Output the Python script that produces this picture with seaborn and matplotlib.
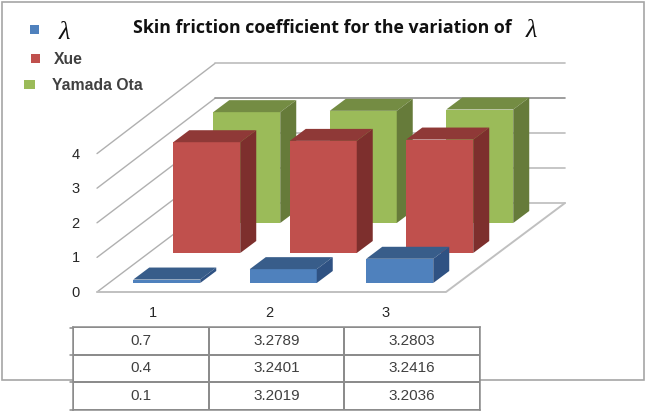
import matplotlib
matplotlib.use("Agg")
import matplotlib.pyplot as plt
from matplotlib.colors import ListedColormap
from matplotlib.patches import Polygon, Rectangle
import numpy as np
import seaborn as sns

# Data
categories = [1, 2, 3]
lambda_values = [0.1, 0.4, 0.7]
xue_values = [3.2019, 3.2401, 3.2789]
yamada_values = [3.2036, 3.2416, 3.2803]
value_ticks = [0, 1, 2, 3, 4]
series_names = ["λ", "Xue", "Yamada Ota"]
title_text = "Skin friction coefficient for the variation of"

W, H = 645, 412
CAT_W = 116.5
UNIT = 34.6
DEPTH = (16, 12)

sns.set_theme(style="white")
plt.rcParams["font.family"] = ["Liberation Sans", "DejaVu Sans"]

fig = plt.figure(figsize=(W / 100, H / 100), dpi=100, facecolor="white")

# pixel canvas for frame, walls and legend
canvas = fig.add_axes([0, 0, 1, 1], zorder=0)
canvas.set_xlim(0, W)
canvas.set_ylim(H, 0)
canvas.axis("off")
canvas.add_patch(Rectangle((2, 2), 642, 378, fill=False, ec="#a6a6a6", lw=1.2))

# floor and gridlines
for k in value_ticks:
    back_y = 203 - k * 34.9
    canvas.plot([97, 215], [292 - k * UNIT, back_y], color="#b0b0b0", lw=1.0, zorder=1)
    canvas.plot([215, 565], [back_y, back_y], color="#8c8c8c" if k == 3 else "#bcbcbc", lw=1.2, zorder=1)
canvas.plot([97, 446, 565], [292, 292, 203], color="#c0c0c0", lw=1.4, zorder=1)


def front_axes(left, base):
    return fig.add_axes([left / W, (H - base) / H, 3 * CAT_W / W, 4 * UNIT / H])


# value and category labels sit on the front plane
front = front_axes(97, 291.5)
front.set_zorder(1)
front.patch.set_alpha(0)
front.set_xlim(-0.48, 2.52)
front.set_ylim(0, 4)
front.set_xticks(range(3), categories)
front.set_yticks(value_ticks)
front.tick_params(length=0, labelsize=10.5, labelcolor="#262626")
front.tick_params(axis="x", pad=10.5)
front.tick_params(axis="y", pad=12.5)
sns.despine(ax=front, left=True, bottom=True)


def draw_series(values, left, base, front_col, top_col, side_col, z):
    ax = front_axes(left, base)
    ax.set_zorder(z)
    sns.barplot(x=categories, y=values, ax=ax, color=front_col, saturation=1, width=0.575, edgecolor="none")
    ax.set_xlim(-0.5, 2.5)
    ax.set_ylim(0, 4)
    ax.axis("off")
    dx, dy = DEPTH[0] / CAT_W, DEPTH[1] / UNIT
    for p in list(ax.patches):
        x, w, h = p.get_x(), p.get_width(), p.get_height()
        ax.add_patch(Polygon([(x, h), (x + w, h), (x + w + dx, h + dy), (x + dx, h + dy)],
                             fc=top_col, ec="none", clip_on=False))
        ax.add_patch(Polygon([(x + w, 0), (x + w + dx, dy), (x + w + dx, h + dy), (x + w, h)],
                             fc=side_col, ec="none", clip_on=False))


draw_series(yamada_values, 188.5, 223, "#9BBB59", "#748C43", "#667B3A", 2)
draw_series(xue_values, 148.5, 253, "#C0504D", "#8F3937", "#7D2F2D", 3)
draw_series(lambda_values, 108.5, 283, "#4F81BD", "#385D8A", "#2F5283", 4)

# table under the plot
table_rows = np.array([[lambda_values[i], xue_values[i], yamada_values[i]] for i in (2, 1, 0)])
table_labels = np.array([[str(lambda_values[i]), f"{xue_values[i]:.4f}", f"{yamada_values[i]:.4f}"] for i in (2, 1, 0)])
tab = fig.add_axes([73 / W, (H - 410) / H, 407 / W, 83 / H], zorder=5)
sns.heatmap(np.zeros_like(table_rows), annot=table_labels, fmt="", cmap=ListedColormap(["white"]), cbar=False,
            linewidths=1.1, linecolor="#8c8c8c", xticklabels=False, yticklabels=False, ax=tab,
            annot_kws={"fontsize": 11, "color": "#404040"})
for s in tab.spines.values():
    s.set_visible(True)
    s.set_color("#8c8c8c")
    s.set_linewidth(1.1)
for y in [327.5, 354.5, 382, 410]:
    canvas.plot([70, 73], [y, y], color="#8c8c8c", lw=1.1, zorder=6)

# legend
legend_boxes = [(29.5, 24.5, 9, 9, "#4F81BD"), (30.5, 54, 9, 9, "#C0504D"), (24, 80, 11, 9, "#9BBB59")]
for x, y, w, h, c in legend_boxes:
    canvas.add_patch(Rectangle((x, y), w, h, fc=c, ec="none", zorder=3))
canvas.text(64, 33, series_names[0], fontsize=19, family="Liberation Serif", style="italic",
            color="#111111", ha="center", va="center")
canvas.text(54, 59, series_names[1], fontsize=11.3, fontweight="bold", color="#404040", va="center")
canvas.text(52, 85.5, series_names[2], fontsize=11.3, fontweight="bold", color="#404040", va="center")

# title
canvas.text(133, 28, title_text, fontsize=12.8, fontweight="bold", family="Open Sans", color="#111111", va="center")
canvas.text(531, 31, series_names[0], fontsize=19, family="Liberation Serif", style="italic",
            color="#111111", ha="center", va="center")

fig.savefig("out.png", dpi=100)
